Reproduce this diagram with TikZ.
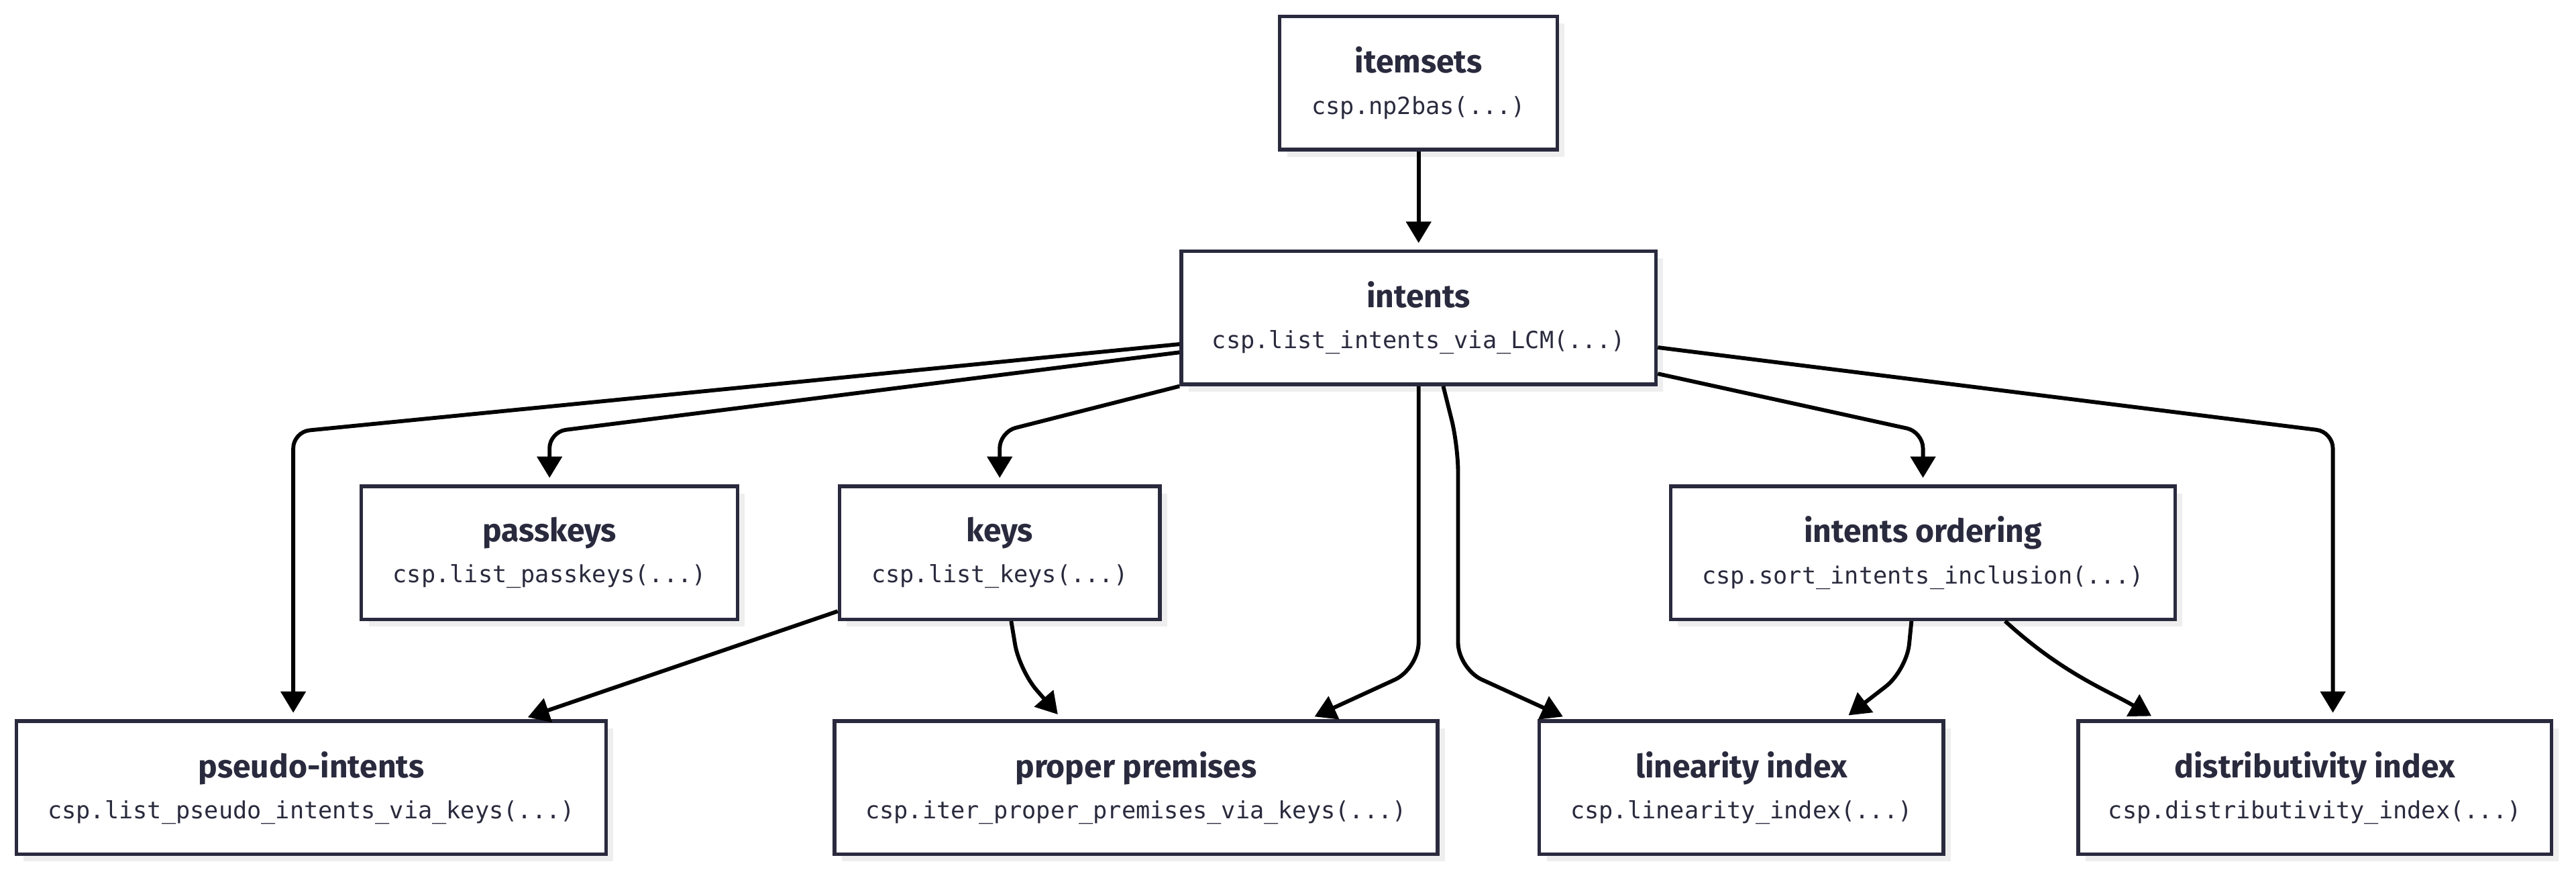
\documentclass[tikz,border=0pt]{standalone}
\usepackage{fontspec}
\setmainfont{Fira Sans}
\setmonofont{DejaVu Sans Mono}
\usetikzlibrary{calc, arrows.meta, shadows}
\definecolor{boxLine}{HTML}{2A2A3E}
\definecolor{boxShadow}{HTML}{EEEEEE}

\tikzset{
  fnbox/.style={draw=boxLine, line width=1.1pt, fill=white, text=boxLine, align=center,
    inner sep=0pt, minimum height=40.5pt,
    general shadow={fill=boxShadow, shadow xshift=2.2pt, shadow yshift=-2.2pt}},
  flow/.style={draw=black, line width=1.2pt, rounded corners=5pt,
    -{Triangle[length=6.5pt,width=7.5pt]}, shorten >=2pt},
}
\newcommand{\fnlabel}[2]{{\fontsize{9.8}{11}\selectfont\bfseries #1}\\[0.5pt]{\fontsize{7.2}{9}\selectfont\ttfamily #2}}

\begin{document}
\begin{tikzpicture}[x=0.5pt, y=-0.5pt]
  \fill[white] (0,0) rectangle (1568,532);
  \useasboundingbox (0,0) rectangle (1568,532);

  % nodes
  \node[fnbox, minimum width=84.5pt] (itemsets) at (863.5,50.5) {\fnlabel{itemsets}{csp.np2bas(...)}};
  \node[fnbox, minimum width=144.5pt] (intents) at (863.5,193.5) {\fnlabel{intents}{csp.list\_intents\_via\_LCM(...)}};
  \node[fnbox, minimum width=114.5pt] (passkeys) at (334.5,336.5) {\fnlabel{passkeys}{csp.list\_passkeys(...)}};
  \node[fnbox, minimum width=97.5pt] (keys) at (608.5,336.5) {\fnlabel{keys}{csp.list\_keys(...)}};
  \node[fnbox, minimum width=153.5pt] (ordering) at (1170.5,336.5) {\fnlabel{intents ordering}{csp.sort\_intents\_inclusion(...)}};
  \node[fnbox, minimum width=179.5pt] (pseudo) at (189.5,479.5) {\fnlabel{pseudo-intents}{csp.list\_pseudo\_intents\_via\_keys(...)}};
  \node[fnbox, minimum width=183.5pt] (premises) at (691.5,479.5) {\fnlabel{proper premises}{csp.iter\_proper\_premises\_via\_keys(...)}};
  \node[fnbox, minimum width=123pt] (linearity) at (1060,479.5) {\fnlabel{linearity index}{csp.linearity\_index(...)}};
  \node[fnbox, minimum width=144pt] (distrib) at (1409,479.5) {\fnlabel{distributivity index}{csp.distributivity\_index(...)}};

  % connectors
  \draw[flow] (itemsets) -- (intents);
  \draw[flow] ($(intents.west)+(0,16)$) -- ($(pseudo.north)+(-11,-175)$) -- ($(pseudo.north)+(-11,0)$);
  \draw[flow] ($(intents.west)+(0,21)$) -- ($(passkeys.north)+(0,-32)$) -- (passkeys.north);
  \draw[flow] (intents.south west) -- ($(keys.north)+(0,-32)$) -- (keys.north);
  \draw[flow, rounded corners=8pt] (intents.south) -- ($(intents.south)+(0,172)$) -- ($(premises.north)+(105,0)$);
  \draw[flow, rounded corners=8pt] ($(intents.south)+(15,0)$) -- ($(intents.south)+(24,36)$) -- ($(intents.south)+(24,172)$) -- ($(linearity.north)+(-105,0)$);
  \draw[flow] ($(intents.east)+(0,34)$) -- ($(ordering.north)+(0,-32)$) -- (ordering.north);
  \draw[flow] ($(intents.east)+(0,18)$) -- ($(distrib.north)+(11,-175)$) -- ($(distrib.north)+(11,0)$);
  \draw[flow] ($(keys.south west)+(0,-6)$) -- ($(pseudo.north)+(128,0)$);
  \draw[flow, rounded corners=8pt] ($(keys.south)+(7,0)$) -- ($(keys.south)+(12,30)$) -- ($(premises.north)+(-45,0)$);
  \draw[flow, rounded corners=8pt] ($(ordering.south)+(-7,0)$) -- ($(ordering.south)+(-10,30)$) -- ($(linearity.north)+(62,0)$);
  \draw[flow] ($(ordering.south)+(50,0)$) .. controls ($(ordering.south)+(85,32)$) and ($(ordering.south)+(112,42)$) .. ($(distrib.north)+(-96,0)$);
\end{tikzpicture}
\end{document}
